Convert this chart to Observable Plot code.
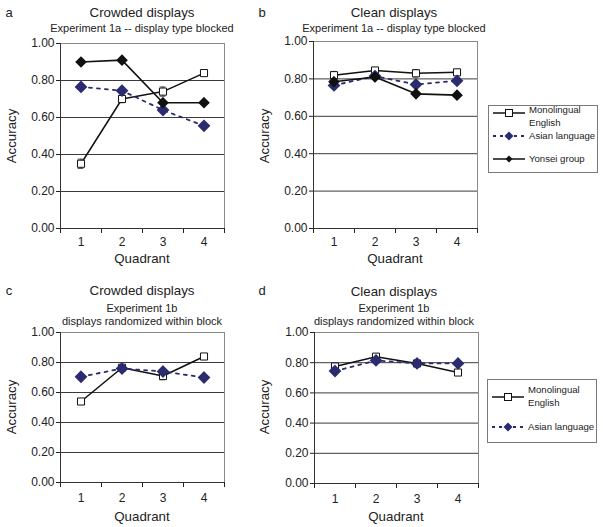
<!DOCTYPE html>
<html><head><meta charset="utf-8">
<script src="https://cdn.jsdelivr.net/npm/d3@7"></script>
<script src="https://cdn.jsdelivr.net/npm/@observablehq/plot@0.6"></script>
<style>
body{margin:0;background:#fff;font-family:"Liberation Sans",Arial,sans-serif;}
#root{position:relative;width:603px;height:527px;overflow:hidden;background:#fff;}
.t{position:absolute;white-space:nowrap;color:#222;transform:translate(-50%,-50%);line-height:1;}
.r{position:absolute;white-space:nowrap;color:#222;transform:translate(-50%,-50%) rotate(-90deg);line-height:1;}
.p{position:absolute;}
</style></head><body><div id="root"></div>
<script>
// ---- data ----
const quadrants = [1, 2, 3, 4];
const yTicks = [0, 0.2, 0.4, 0.6, 0.8, 1.0];
const seriesNames = ["Monolingual English", "Asian language", "Yonsei group"];
// Panel a: crowded, Exp 1a
const monoA   = [0.35, 0.70, 0.74, 0.84];
const errMonoA= [0.025, 0.02, 0.025, 0.01];
const asianA  = [0.765, 0.745, 0.64, 0.555];
const yonseiA = [0.90, 0.91, 0.68, 0.68];
// Panel b: clean, Exp 1a
const monoB   = [0.82, 0.845, 0.83, 0.835];
const errMonoB= [0.02, 0.015, 0.02, 0.01];
const asianB  = [0.765, 0.815, 0.77, 0.79];
const yonseiB = [0.785, 0.81, 0.72, 0.713];
// Panel c: crowded, Exp 1b
const monoC   = [0.54, 0.765, 0.71, 0.84];
const errMonoC= [0.015, 0.01, 0.025, 0.01];
const asianC  = [0.705, 0.76, 0.74, 0.70];
// Panel d: clean, Exp 1b
const monoD   = [0.775, 0.84, 0.795, 0.735];
const errMonoD= [0.015, 0.01, 0.02, 0.01];
const asianD  = [0.745, 0.815, 0.795, 0.795];

const NAVY = "#2b2b70";
const root = document.getElementById("root");

function addText(cls, txt, x, y, size, extra) {
  const d = document.createElement("div");
  d.className = cls; d.textContent = txt;
  d.style.left = x + "px"; d.style.top = y + "px"; d.style.fontSize = size + "px";
  if (extra) Object.assign(d.style, extra);
  root.appendChild(d);
}

function panel({mono, err, asian, yonsei, left, top, plotH, marginTop, tickPad}) {
  const rows = s => quadrants.map((q, i) => ({q, v: s[i]}));
  const errRows = quadrants.map((q, i) => ({q, lo: mono[i] - err[i], hi: mono[i] + err[i]}));
  const marks = [
    Plot.ruleY([0.2, 0.4, 0.6, 0.8], {stroke: "#3a3a3a", strokeWidth: 1}),
    Plot.frame({stroke: "#8a8a8a"}),
    Plot.axisY({ticks: yTicks, tickFormat: d3.format(".2f"), tickSize: 4, tickPadding: 2, label: null}),
    Plot.axisX({ticks: [0.5, 1.5, 2.5, 3.5, 4.5], tickSize: 5, tickFormat: () => "", label: null}),
    Plot.axisX({ticks: quadrants, tickSize: 0, tickPadding: tickPad, tickFormat: d3.format("d"), label: null}),
    Plot.ruleX([0.5], {stroke: "#333"}),
    Plot.ruleY([0], {stroke: "#333"}),
    Plot.line(rows(mono), {x: "q", y: "v", stroke: "#111", strokeWidth: 1.5}),
    Plot.ruleX(errRows, {x: "q", y1: "lo", y2: "hi", stroke: "#444"}),
    Plot.ruleY(errRows, {y: "lo", x1: d => d.q - 0.07, x2: d => d.q + 0.07, stroke: "#444"}),
    Plot.ruleY(errRows, {y: "hi", x1: d => d.q - 0.07, x2: d => d.q + 0.07, stroke: "#444"}),
    Plot.dot(rows(mono), {x: "q", y: "v", symbol: "square", r: 4, fill: "white", stroke: "#111", strokeWidth: 1})
  ];
  marks.push(
    Plot.line(rows(asian), {x: "q", y: "v", stroke: NAVY, strokeWidth: 1.8, strokeDasharray: "3,5"}),
    Plot.dot(rows(asian), {x: "q", y: "v", symbol: "diamond2", r: 4.8, fill: NAVY, stroke: NAVY})
  );
  if (yonsei) marks.push(
    Plot.line(rows(yonsei), {x: "q", y: "v", stroke: "#111", strokeWidth: 1.6}),
    Plot.dot(rows(yonsei), {x: "q", y: "v", symbol: "diamond2", r: 4.3, fill: "#111", stroke: "#111"})
  );
  const chart = Plot.plot({
    width: 240, height: marginTop + plotH + 26,
    marginLeft: 60, marginRight: 16, marginTop, marginBottom: 26,
    style: {fontSize: "12px", fontFamily: "Liberation Sans, Arial, sans-serif", color: "#222", background: "transparent", overflow: "visible"},
    x: {domain: [0.5, 4.5]},
    y: {domain: [0, 1]},
    marks
  });
  const wrap = document.createElement("div");
  wrap.className = "p"; wrap.style.left = left + "px"; wrap.style.top = top + "px";
  wrap.appendChild(chart);
  root.appendChild(wrap);
}

function legend(x, y, w, h, items) {
  const svg = d3.create("svg").attr("width", w).attr("height", h)
    .style("position", "absolute").style("left", x + "px").style("top", y + "px")
    .style("font-family", "Liberation Sans, Arial, sans-serif").style("font-size", "9.6px");
  svg.append("rect").attr("x", 0.5).attr("y", 0.5).attr("width", w - 1).attr("height", h - 1)
    .attr("fill", "white").attr("stroke", "#7a7a7a");
  for (const it of items) {
    const g = svg.append("g");
    g.append("line").attr("x1", 5).attr("x2", 37).attr("y1", it.y).attr("y2", it.y)
      .attr("stroke", it.color).attr("stroke-width", it.dash ? 1.8 : 1.5).attr("stroke-dasharray", it.dash || null);
    if (it.sym === "square") g.append("rect").attr("x", 17.5).attr("y", it.y - 3.5).attr("width", 7).attr("height", 7).attr("fill", "white").attr("stroke", "#111");
    else { const r = it.r; g.append("path").attr("d", `M21,${it.y - r}L${21 + r},${it.y}L21,${it.y + r}L${21 - r},${it.y}Z`).attr("fill", it.color); }
    it.lines.forEach((t, k) => g.append("text").attr("x", 41).attr("y", it.ty + k * 12.5).attr("dy", "0.35em").attr("fill", "#222").text(t));
  }
  root.appendChild(svg.node());
}

// Panels
panel({mono: monoA, err: errMonoA, asian: asianA, yonsei: yonseiA, left: 0, top: 35, plotH: 185, marginTop: 8, tickPad: 9});
panel({mono: monoB, err: errMonoB, asian: asianB, yonsei: yonseiB, left: 253, top: 35, plotH: 187, marginTop: 6, tickPad: 9});
panel({mono: monoC, err: errMonoC, asian: asianC, yonsei: null, left: 0, top: 322, plotH: 150, marginTop: 10, tickPad: 11});
panel({mono: monoD, err: errMonoD, asian: asianD, yonsei: null, left: 254, top: 322, plotH: 151, marginTop: 10, tickPad: 11});

// Titles & labels
addText("t", "a", 9, 12, 13);
addText("t", "Crowded displays", 142, 13, 13.3);
addText("t", "Experiment 1a -- display type blocked", 142, 28, 11);
addText("t", "b", 262, 12, 13);
addText("t", "Clean displays", 394, 13, 13.3);
addText("t", "Experiment 1a -- display type blocked", 394, 28, 11);
addText("t", "c", 9, 290, 13);
addText("t", "Crowded displays", 142, 291, 13.3);
addText("t", "Experiment 1b", 142, 308, 11);
addText("t", "displays randomized within block", 142, 321, 11);
addText("t", "d", 262, 290, 13);
addText("t", "Clean displays", 394, 292, 13.3);
addText("t", "Experiment 1b", 394, 308, 11);
addText("t", "displays randomized within block", 394, 321, 11);
addText("t", "Quadrant", 142, 259, 13.3);
addText("t", "Quadrant", 395, 259, 13.3);
addText("t", "Quadrant", 142, 517, 13.3);
addText("t", "Quadrant", 396, 517, 13.3);
addText("r", "Accuracy", 12, 136, 13.3);
addText("r", "Accuracy", 265, 136, 13.3);
addText("r", "Accuracy", 12, 407, 13.3);
addText("r", "Accuracy", 265, 407, 13.3);

legend(488, 105, 110, 68, [
  {y: 8, ty: 5, sym: "square", color: "#111", lines: ["Monolingual", "English"]},
  {y: 31, ty: 31, sym: "diamond", r: 4.5, color: NAVY, dash: "3,4", lines: ["Asian language"]},
  {y: 54, ty: 54, sym: "diamond", r: 3.5, color: "#111", lines: ["Yonsei group"]}
]);
legend(487, 379, 110, 64, [
  {y: 18, ty: 11, sym: "square", color: "#111", lines: ["Monolingual", "English"]},
  {y: 48, ty: 48, sym: "diamond", r: 4.5, color: NAVY, dash: "3,4", lines: ["Asian language"]}
]);
</script></body></html>
